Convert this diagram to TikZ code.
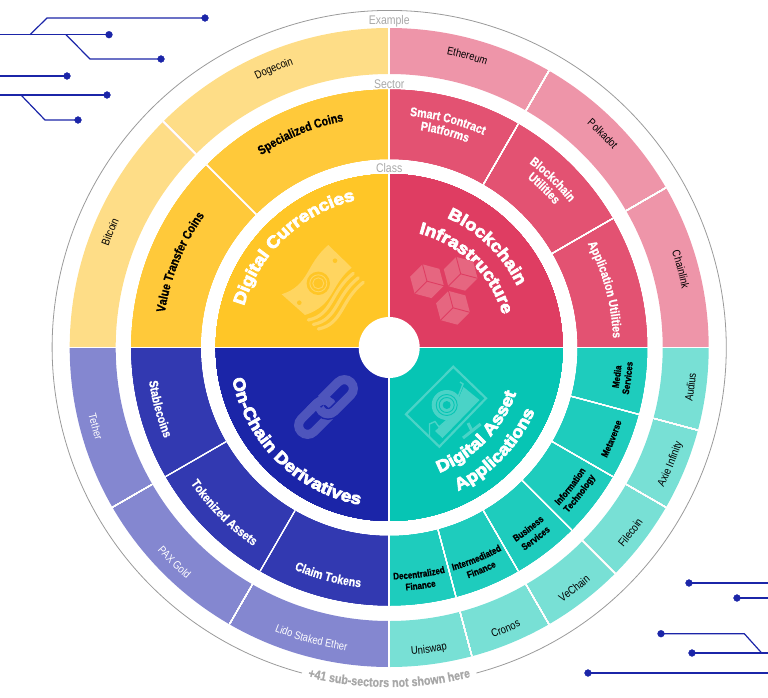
\documentclass[tikz,border=0pt]{standalone}
\usepackage{fontspec}
\usepackage{tikz}
\usetikzlibrary{decorations.text}
\setmainfont{Liberation Sans}
\newfontfamily\thinfont[FakeStretch=0.84]{Liberation Sans}
\newfontfamily\boldfont[FakeStretch=0.84,FakeBold=0.8]{Liberation Sans Bold}
\newfontfamily\heavyfont[FakeStretch=1.12,FakeBold=4.5]{Liberation Sans Bold}
\definecolor{yellowA}{HTML}{FFC627}
\definecolor{yellowB}{HTML}{FFC93A}
\definecolor{yellowC}{HTML}{FEDD87}
\definecolor{yellowD}{HTML}{FFD560}
\definecolor{redA}{HTML}{DF3D62}
\definecolor{redB}{HTML}{E35272}
\definecolor{redC}{HTML}{EE95A9}
\definecolor{redD}{HTML}{E66680}
\definecolor{tealA}{HTML}{06C5B4}
\definecolor{tealB}{HTML}{1ECCBD}
\definecolor{tealC}{HTML}{78E0D5}
\definecolor{tealD}{HTML}{4AD3C7}
\definecolor{blueA}{HTML}{1B25A8}
\definecolor{blueB}{HTML}{3239B1}
\definecolor{blueC}{HTML}{8487D0}
\definecolor{blueD}{HTML}{4E55BC}
\definecolor{ringgray}{HTML}{9A9A9A}
\definecolor{wordgray}{HTML}{A8A8A8}
\newcommand{\bandseg}[5]{\fill[#5] (#1:#3) arc[start angle=#1,end angle=#2,radius=#3] -- (#2:#4) arc[start angle=#2,end angle=#1,radius=#4] -- cycle;}
\newcommand{\cwlabel}[4]{\path[decorate,decoration={text along path,text align=center,text={|#1|#4}}] (#3+50:#2) arc[start angle=#3+50,end angle=#3-50,radius=#2];}
\newcommand{\ccwlabel}[4]{\path[decorate,decoration={text along path,text align=center,text={|#1|#4}}] (#3-50:#2) arc[start angle=#3-50,end angle=#3+50,radius=#2];}
\newcommand{\exfont}[1]{\thinfont\fontsize{11.2}{13}\selectfont\color{#1}}
\newcommand{\secfont}[1]{\boldfont\fontsize{12.6}{15}\selectfont\color{#1}}
\newcommand{\smallfont}{\boldfont\fontsize{9.6}{11}\selectfont\color{black}}
\newcommand{\clsfont}{\heavyfont\fontsize{16.8}{20}\selectfont\color{white}}
\tikzset{
	circuit/.style={color=blueA,line width=1.2pt},
	gapline/.style={white,line width=1pt},
	toplabel/.style={wordgray,font=\thinfont\fontsize{12.5}{14}\selectfont,inner sep=0pt}
}
\begin{document}
\begin{tikzpicture}[x=1pt,y=1pt]
	\useasboundingbox (-389.2,-349.5) rectangle (378.8,347.5);
	\draw[ringgray,line width=0.8pt] (-75:337) arc[start angle=-75,end angle=255,radius=337];
	\foreach \c/\s/\e in {yellowC/90/180,redC/0/90,tealC/-90/0,blueC/180/270}
		\bandseg{\s}{\e}{319.5}{273.5}{\c}
	\foreach \c/\s/\e in {yellowB/90/180,redB/0/90,tealB/-90/0,blueB/180/270}
		\bandseg{\s}{\e}{258}{188.5}{\c}
	\foreach \c/\s/\e in {yellowA/90/180,redA/0/90,tealA/-90/0,blueA/180/270}
		\bandseg{\s}{\e}{173.5}{30}{\c}
	\foreach \a in {135,60,30,-15,-30,-45,-60,-75,210,240} {
		\draw[gapline] (\a:273.5) -- (\a:319.5);
		\draw[gapline] (\a:188.5) -- (\a:258);
	}
	\draw[white,line width=1.8pt] (-320,0) -- (320,0);
	\draw[white,line width=1.8pt] (0,-320) -- (0,320);
	\fill[white] (0,0) circle (30.5);
	\node[toplabel] (example) at (0,326.5) {Example};
	\node[toplabel] (sector) at (0,263.5) {Sector};
	\node[toplabel] (class) at (0,179.5) {Class};
	\cwlabel{\exfont{black}}{298.5}{157.5}{Bitcoin}
	\cwlabel{\exfont{black}}{298.5}{112.5}{Dogecoin}
	\cwlabel{\exfont{black}}{298.5}{75}{Ethereum}
	\cwlabel{\exfont{black}}{298.5}{45}{Polkadot}
	\cwlabel{\exfont{black}}{298.5}{15}{Chainlink}
	\ccwlabel{\exfont{black}}{308}{-7.5}{Audius}
	\ccwlabel{\exfont{black}}{308}{-22.5}{Axie Infinity}
	\ccwlabel{\exfont{black}}{308}{-37.5}{Filecoin}
	\ccwlabel{\exfont{black}}{308}{-52.5}{VeChain}
	\ccwlabel{\exfont{black}}{308}{-67.5}{Cronos}
	\ccwlabel{\exfont{black}}{308}{-82.5}{Uniswap}
	\ccwlabel{\exfont{white}}{308}{195}{Tether}
	\ccwlabel{\exfont{white}}{308}{225}{PAX Gold}
	\ccwlabel{\exfont{white}}{306}{255}{Lido Staked Ether}
	\cwlabel{\secfont{black}}{227}{157.8}{Value Transfer Coins}
	\cwlabel{\secfont{black}}{231}{112.5}{Specialized Coins}
	\cwlabel{\secfont{white}}{232.5}{75.5}{Smart Contract}
	\cwlabel{\secfont{white}}{219.5}{75.5}{Platforms}
	\cwlabel{\secfont{white}}{231.5}{45.8}{Blockchain}
	\cwlabel{\secfont{white}}{218.5}{45.8}{Utilities}
	\cwlabel{\secfont{white}}{224}{15}{Application Utilities}
	\ccwlabel{\smallfont}{233}{-7.3}{Media}
	\ccwlabel{\smallfont}{244}{-7.3}{Services}
	\ccwlabel{\smallfont}{244}{-22.3}{Metaverse}
	\ccwlabel{\smallfont}{232}{-37.5}{Information}
	\ccwlabel{\smallfont}{243.5}{-37.5}{Technology}
	\ccwlabel{\smallfont}{232}{-52.5}{Business}
	\ccwlabel{\smallfont}{244}{-52.5}{Services}
	\ccwlabel{\smallfont}{232}{-67.5}{Intermediated}
	\ccwlabel{\smallfont}{244}{-67.5}{Finance}
	\ccwlabel{\smallfont}{232}{-82.5}{Decentralized}
	\ccwlabel{\smallfont}{243.5}{-82.5}{Finance}
	\ccwlabel{\secfont{white}}{242.5}{195}{Stablecoins}
	\ccwlabel{\secfont{white}}{240.5}{225}{Tokenized Assets}
	\ccwlabel{\secfont{white}}{241.5}{255}{Claim Tokens}
	\cwlabel{\clsfont}{151}{133.5}{Digital Currencies}
	\cwlabel{\clsfont}{142}{45.8}{Blockchain}
	\cwlabel{\clsfont}{118}{45.8}{Infrastructure}
	\ccwlabel{\clsfont}{160}{225.4}{On-Chain Derivatives}
	\ccwlabel{\clsfont}{135}{-44}{Digital Asset}
	\ccwlabel{\clsfont}{159}{-44}{Applications}
	\ccwlabel{\boldfont\fontsize{12.8}{15}\selectfont\color{wordgray}}{339.5}{-90}{+41 sub-sectors not shown here}
	\foreach \x/\y in {37.8/66.3,71.5/73.7,63.8/39.7} {
		\fill[redD] (\x,\y) ++(45:17.5) -- ++(165:17.5) -- ++(225:17.5) -- ++(285:17.5) -- ++(345:17.5) -- ++(45:17.5) -- cycle;
		\foreach \a in {105,225,345}
			\draw[redA,line width=0.9pt] (\x,\y) -- ++(\a:17.5);
	}
	\begin{scope}[shift={(-389.2,347.5)},y=-1pt]
		\fill[yellowD] (328.3,245) -- (351.7,267.7) .. controls (330,285) and (335,305) .. (305,315) -- (281.7,294.3) .. controls (310,285) and (305,265) .. (328.3,245) -- cycle;
		\foreach \dx/\dy in {0/0,5/4.5,10/9}
			\draw[yellowD,line width=3.2pt,line cap=round] (308.3+\dx,320+\dy) .. controls (333+\dx,315+\dy) and (330+\dx,292+\dy) .. (353.3+\dx,273.3+\dy);
		\fill[yellowA] (318.3,283.3) circle (11.7);
		\draw[yellowD,line width=0.9pt] (318.3,283.3) circle (8.5);
		\draw[yellowD,line width=0.9pt] (318.3,283.3) circle (5.5);
		\fill[yellowA] (335,260.7) circle (2.3);
		\fill[yellowA] (299.3,302.7) circle (2.3);
		\draw[tealD,line width=2.2pt] (453.3,366.7) -- (486,398.3) -- (439.3,446.7) -- (406,414.3) -- cycle;
		\fill[tealD] (463.5,387) -- (479.5,400) -- (442.5,438) -- (435,431) -- (450,418) -- cycle;
		\draw[tealD,line width=1.4pt] (460,382) -- (463,384) -- (458,397);
		\draw[tealD,line width=1.4pt] (429.5,437) -- (429.5,424) -- (435,421.5) -- (439,427) -- (447,420);
		\fill[tealD] (446.7,405) circle (15);
		\draw[tealA,line width=0.9pt] (446.7,405) circle (10.5);
		\draw[tealA,line width=0.9pt] (446.7,405) circle (7.5);
		\fill[tealA] (446.7,405) circle (4);
		\draw[tealD,line width=3pt] (463,438) -- (480.7,424);
		\draw[tealD,line width=3pt] (468,423) -- (472,431);
		\begin{scope}[shift={(326,407)},rotate=45,y=1pt]
			\draw[blueD,line width=9pt,rounded corners=9pt] (-35,-9) rectangle (6,9);
			\draw[blueA,line width=12pt,rounded corners=9pt] (-6,9) -- (-6,-9) -- (10,-9);
			\draw[blueD,line width=9pt,rounded corners=9pt] (-6,-9) rectangle (35,9);
			\draw[blueA,line width=12pt] (-4,9) -- (2,9);
			\draw[blueD,line width=9pt,rounded corners=9pt] (-14,9) -- (6,9) -- (6,-2);
		\end{scope}
		\foreach \ax/\ay/\bx/\by in {0/34.7/109/34.7,0/76/67/76,0/95/107/95,689/583/768/583,737/598/768/598,692/653/768/653,588/673/768/673} {
			\draw[circuit] (\ax,\ay) -- (\bx,\by);
		}
		\draw[circuit] (30,34.7) -- (47,18) -- (205,18);
		\draw[circuit] (66,34.7) -- (90,59) -- (161,59);
		\draw[circuit] (21,95) -- (45,120) -- (78,120);
		\draw[circuit] (661,633.7) -- (744.3,633.7) -- (761.7,653);
		\foreach \x/\y in {205/18,109/34.7,161/59,67/76,107/95,78/120,689/583,737/598,661/633.7,692/653,588/673}
			\filldraw[color=blueA] (\x,\y) circle (3.4);
	\end{scope}
\end{tikzpicture}
\end{document}
